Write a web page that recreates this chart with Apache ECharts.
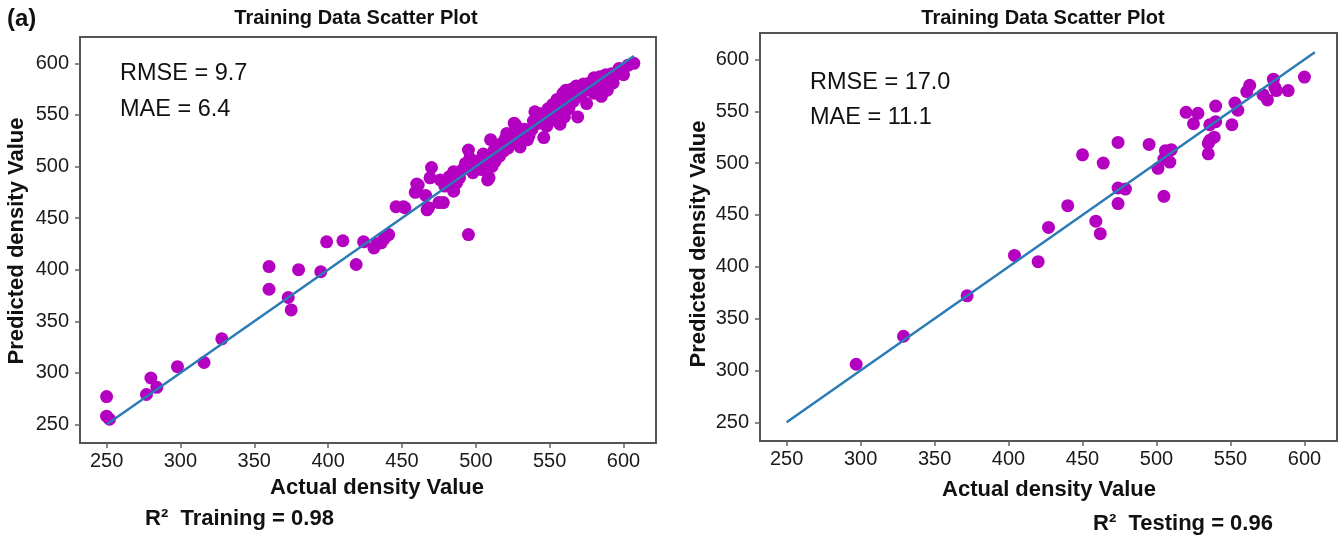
<!DOCTYPE html>
<html>
<head>
<meta charset="utf-8">
<title>Training / Testing scatter</title>
<script src="https://cdn.jsdelivr.net/npm/echarts@6/dist/echarts.min.js"></script>
<style>
  html, body { margin: 0; padding: 0; background: #fff; }
  #chart { width: 1344px; height: 538px; }
</style>
</head>
<body>
<div id="chart"></div>
<script>
// Actual vs predicted density.
var trainActual = [250, 252, 277, 280, 284, 298, 316, 328, 360, 360, 373, 375, 380, 395, 399, 410, 419, 424, 431, 433,
  436, 438, 441, 446, 452, 451, 459, 461, 460, 467, 468, 466, 470, 469, 475, 476, 479, 478, 485, 485,
  489, 493, 495, 496, 495, 498, 498, 504, 508, 509, 510, 512, 511, 516, 519, 521, 525, 527, 526, 532,
  538, 540, 541, 530, 533, 535, 539, 543, 546, 546, 548, 551, 552, 552, 555, 557, 557, 559, 560, 561,
  564, 559, 569, 569, 570, 575, 575, 577, 580, 584, 585, 585, 589, 588, 593, 595, 600, 607, 482, 487,
  491, 500, 502, 505, 507, 514, 517, 522, 528, 530, 536, 544, 549, 554, 562, 566, 572, 578, 582, 590,
  597, 603, 545, 520, 513, 563, 587, 592, 598, 565, 568, 573, 580, 250];
var trainPredicted = [258, 255, 279, 295, 286, 306, 310, 333, 403, 381, 373, 361, 400, 398, 427, 428, 405, 427, 421, 425,
  426, 430, 434, 461, 460, 461, 475, 482, 483, 458, 460, 472, 499, 489, 465, 487, 481, 465, 495, 476,
  489, 503, 516, 508, 434, 494, 503, 497, 487, 489, 526, 515, 500, 510, 515, 532, 523, 540, 542, 526,
  536, 553, 542, 519, 536, 526, 544, 542, 528, 548, 539, 550, 560, 545, 565, 555, 541, 571, 548, 574,
  571, 565, 568, 548, 577, 574, 561, 581, 571, 587, 579, 568, 574, 589, 581, 590, 589, 600, 490, 484,
  497, 505, 499, 512, 507, 520, 522, 518, 530, 533, 530, 551, 556, 552, 560, 563, 572, 578, 583, 585,
  595, 598, 545, 527, 505, 556, 582, 590, 591, 575, 578, 580, 586, 277];

var testActual = [297, 329, 372, 404, 420, 427, 440, 450, 459, 462, 464, 474, 474, 474, 479, 495, 501, 505, 505, 509,
  510, 520, 525, 528, 535, 536, 536, 539, 540, 540, 551, 553, 555, 561, 563, 572, 575, 579, 581, 589,
  600, 506, 535, 580];
var testPredicted = [306, 333, 372, 411, 405, 438, 459, 508, 444, 432, 500, 520, 476, 461, 475, 518, 495, 468, 504, 501,
  513, 549, 538, 548, 509, 522, 537, 525, 555, 540, 537, 558, 551, 569, 575, 566, 561, 581, 570, 570,
  583, 512, 519, 573];

var fitLine = [250, 607];
var tickValues = [250, 300, 350, 400, 450, 500, 550, 600];
var axisRange = { xMin: 232, xMax: 622, yMin: 232, yMax: 625.5 };

var DOT = "#b400c0";
var LINE = "#2b7bb6";
var FONT = "'Liberation Sans', Arial, sans-serif";

function pairs(xs, ys) {
  return xs.map(function (x, i) { return [x, ys[i]]; });
}

function axisFor(idx, margin) {
  return {
    type: "value", gridIndex: idx,
    splitLine: { show: false },
    axisLine: { show: false },
    axisTick: { show: true, length: 5, customValues: tickValues, lineStyle: { color: "#666", width: 1.5 } },
    axisLabel: { customValues: tickValues, fontSize: 20, color: "#1a1a1a", fontFamily: FONT, margin: margin }
  };
}
function xAxisFor(idx) {
  return Object.assign(axisFor(idx, 8), { min: axisRange.xMin, max: axisRange.xMax });
}
function yAxisFor(idx) {
  return Object.assign(axisFor(idx, 11), { min: axisRange.yMin, max: axisRange.yMax });
}

var chart = echarts.init(document.getElementById("chart"), null, { renderer: "canvas" });

var boldText = { fontFamily: FONT, fontWeight: "bold", fontSize: 22, fill: "#111", verticalAlign: "middle" };
var plainText = { fontFamily: FONT, fontSize: 23.5, fill: "#111", verticalAlign: "middle" };

function txt(x, y, s, style, extra, rotation) {
  var st = Object.assign({ text: s }, style, extra || {});
  return { type: "text", x: x, y: y, rotation: rotation || 0, style: st };
}

chart.setOption({
  animation: false,
  grid: [
    { left: 80, top: 37, width: 576, height: 406, show: true, borderColor: "#555", borderWidth: 2 },
    { left: 760, top: 33, width: 577, height: 408, show: true, borderColor: "#555", borderWidth: 2 }
  ],
  xAxis: [xAxisFor(0), xAxisFor(1)],
  yAxis: [yAxisFor(0), yAxisFor(1)],
  series: [
    { type: "scatter", xAxisIndex: 0, yAxisIndex: 0, symbolSize: 13,
      itemStyle: { color: DOT, opacity: 1 }, data: pairs(trainActual, trainPredicted) },
    { type: "line", xAxisIndex: 0, yAxisIndex: 0, symbol: "none", z: 5,
      lineStyle: { color: LINE, width: 2.5 }, data: pairs(fitLine, fitLine) },
    { type: "scatter", xAxisIndex: 1, yAxisIndex: 1, symbolSize: 13,
      itemStyle: { color: DOT, opacity: 1 }, data: pairs(testActual, testPredicted) },
    { type: "line", xAxisIndex: 1, yAxisIndex: 1, symbol: "none", z: 5,
      lineStyle: { color: LINE, width: 2.5 }, data: pairs(fitLine, fitLine) }
  ],
  graphic: [
    txt(7, 19, "(a)", boldText, { fontSize: 24 }),
    txt(356, 18, "Training Data Scatter Plot", boldText, { fontSize: 20, align: "center" }),
    txt(1043, 18, "Training Data Scatter Plot", boldText, { fontSize: 20, align: "center" }),
    txt(120, 74, "RMSE = 9.7", plainText),
    txt(120, 110, "MAE = 6.4", plainText),
    txt(810, 83, "RMSE = 17.0", plainText),
    txt(810, 118, "MAE = 11.1", plainText),
    txt(377, 488, "Actual density Value", boldText, { align: "center" }),
    txt(1049, 490, "Actual density Value", boldText, { align: "center" }),
    txt(145, 519, "R\u00B2  Training = 0.98", boldText),
    txt(1093, 524, "R\u00B2  Testing = 0.96", boldText),
    txt(17, 241, "Predicted density Value", boldText, { align: "center" }, Math.PI / 2),
    txt(699, 244, "Predicted density Value", boldText, { align: "center" }, Math.PI / 2)
  ]
});
</script>
</body>
</html>
